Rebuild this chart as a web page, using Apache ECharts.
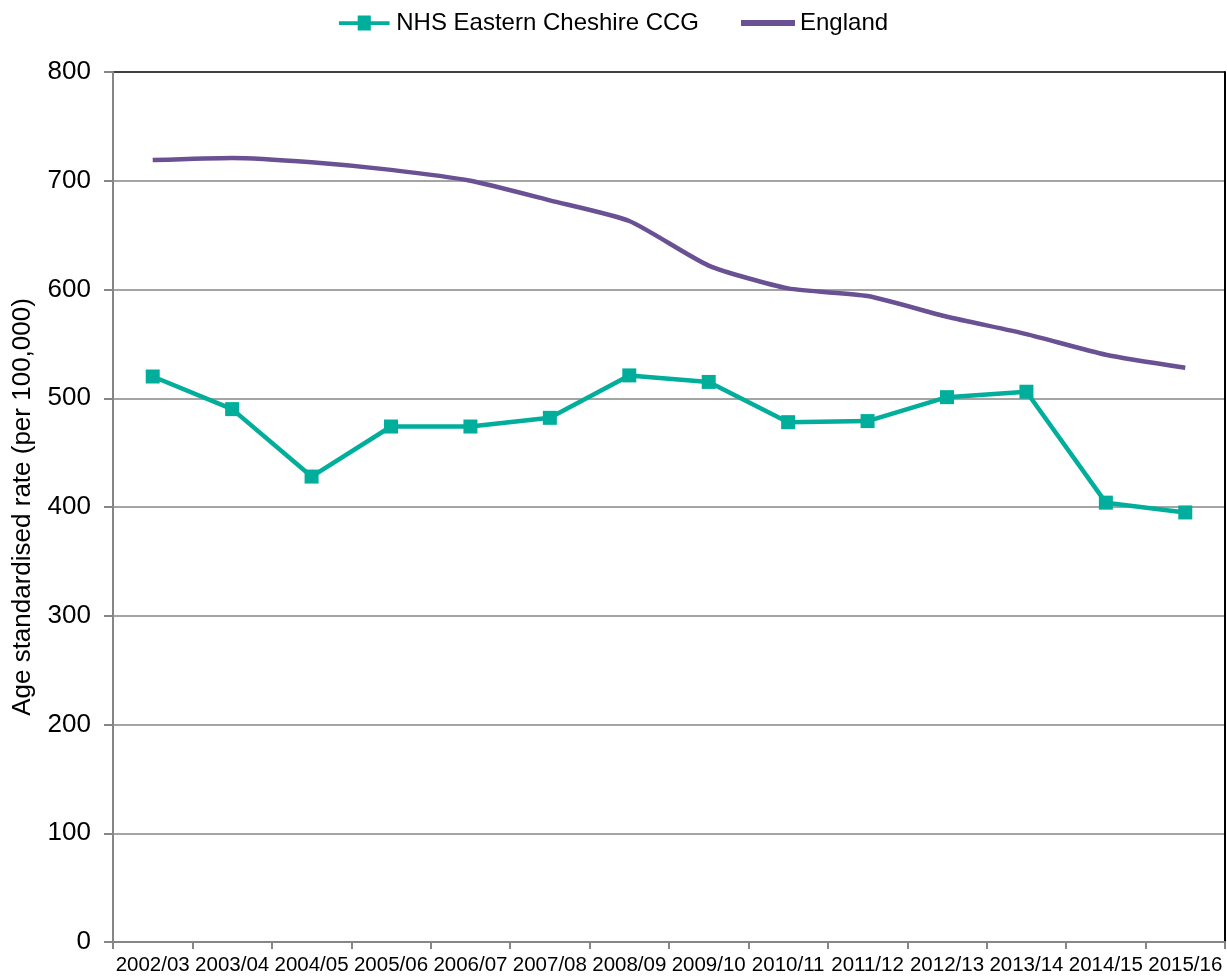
<!DOCTYPE html>
<html>
<head>
<meta charset="utf-8">
<script src="https://cdn.jsdelivr.net/npm/echarts@6/dist/echarts.min.js"></script>
<style>
  html, body { margin: 0; padding: 0; background: #fff; }
  #chart { width: 1227px; height: 978px; }
</style>
</head>
<body>
<div id="chart"></div>
<script>
var years = ['2002/03', '2003/04', '2004/05', '2005/06', '2006/07', '2007/08', '2008/09',
  '2009/10', '2010/11', '2011/12', '2012/13', '2013/14', '2014/15', '2015/16'];
var ccgRates = [520, 490, 428, 474, 474, 482, 521, 515, 478, 479, 501, 506, 404, 395];
var englandRates = [719, 721, 717, 710, 700, 682, 663, 622, 601, 594, 575, 559, 540, 528];
var yTicks = [0, 100, 200, 300, 400, 500, 600, 700, 800];

var fontFam = '"Liberation Sans", Arial, sans-serif';
var axisGrey = '#868686';

// top gridline doubles as the black frame edge
var splitColors = yTicks.map(function (v, i) {
  return i === yTicks.length - 1 ? '#000' : axisGrey;
});

var myChart = echarts.init(document.getElementById('chart'));
var option = {
  backgroundColor: '#fff',
  animation: false,
  legend: {
    top: 6,
    left: 'center',
    itemGap: 42,
    itemWidth: 54,
    itemHeight: 15,
    textStyle: { fontFamily: fontFam, fontSize: 24, color: '#000' },
    data: [
      { name: 'NHS Eastern Cheshire CCG', icon: 'path://M0,6 L20,6 L20,0 L34,0 L34,6 L54,6 L54,10 L34,10 L34,16 L20,16 L20,10 L0,10 Z' },
      { name: 'England', icon: 'path://M0,5 L54,5 L54,11 L0,11 Z' }
    ]
  },
  grid: { left: 113, right: 2, top: 72, bottom: 36 },
  xAxis: {
    type: 'category',
    data: years,
    boundaryGap: true,
    axisLine: { lineStyle: { color: axisGrey, width: 2 } },
    axisTick: { show: true, length: 7, lineStyle: { color: axisGrey, width: 2 } },
    axisLabel: { interval: 0, color: '#000', fontFamily: fontFam, fontSize: 20.5, margin: 13 },
    splitLine: { show: false }
  },
  yAxis: [
    {
      type: 'value',
      min: yTicks[0],
      max: yTicks[yTicks.length - 1],
      interval: 100,
      name: 'Age standardised rate (per 100,000)',
      nameLocation: 'middle',
      nameGap: 77,
      nameTextStyle: { fontFamily: fontFam, fontSize: 26, color: '#000' },
      axisLine: { show: true, lineStyle: { color: axisGrey, width: 2 } },
      axisTick: { show: true, length: 9, lineStyle: { color: axisGrey, width: 2 } },
      axisLabel: { color: '#000', fontFamily: fontFam, fontSize: 26, margin: 22 },
      splitLine: { show: true, lineStyle: { color: splitColors, width: 1.5 } }
    },
    {
      type: 'value',
      position: 'right',
      min: yTicks[0],
      max: yTicks[yTicks.length - 1],
      interval: 100,
      axisLine: { show: true, lineStyle: { color: '#000', width: 2 } },
      axisTick: { show: false },
      axisLabel: { show: false },
      splitLine: { show: false }
    }
  ],
  series: [
    {
      name: 'NHS Eastern Cheshire CCG',
      type: 'line',
      data: ccgRates,
      symbol: 'rect',
      symbolSize: 14,
      color: '#00ae9b',
      lineStyle: { width: 4.5, color: '#00ae9b' },
      itemStyle: { color: '#00ae9b' },
      z: 3
    },
    {
      name: 'England',
      type: 'line',
      data: englandRates,
      symbol: 'none',
      smooth: 0.2,
      color: '#6a5193',
      lineStyle: { width: 4.5, color: '#6a5193' },
      z: 2
    }
  ]
};
myChart.setOption(option, true);
window.addEventListener('resize', function () {
  myChart.resize();
});
</script>
</body>
</html>
